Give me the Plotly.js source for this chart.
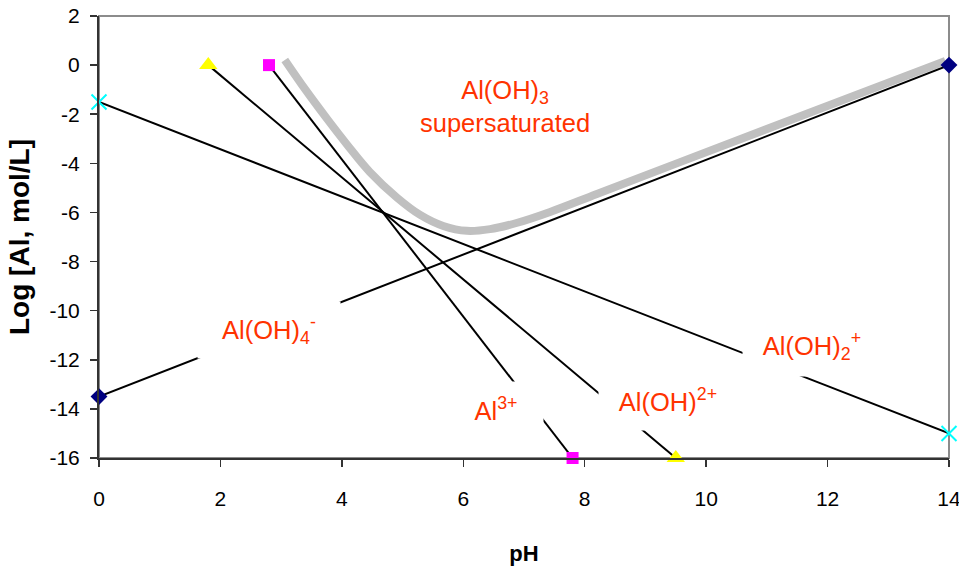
<!DOCTYPE html>
<html>
<head>
<meta charset="utf-8">
<script src="https://cdn.plot.ly/plotly-3.0.1.min.js"></script>
<style>html,body{margin:0;padding:0;background:#fff;}#chart{width:959px;height:569px;}</style>
</head>
<body>
<div id="chart"></div>
<script>
// Species lines (pH, log[Al])
const al3pH = [2.8, 7.8];
const al3Log = [0, -16];
const alOH2plusPH = [1.8, 9.5];      // Al(OH)2+
const alOH2plusLog = [0, -16];
const alOH2pH = [0, 14];             // Al(OH)2 +
const alOH2Log = [-1.5, -15];
const alOH4pH = [0, 14];             // Al(OH)4 -
const alOH4Log = [-13.5, 0];
// Al(OH)3 solubility boundary (thick gray curve)
const solPH  = [3.06, 3.40, 3.76, 4.09, 4.46, 4.91, 5.29, 5.67, 6.06, 6.44, 6.89, 7.43, 8.20, 9.57, 13.94];
const solLog = [0.21, -1.00, -2.20, -3.25, -4.35, -5.40, -6.10, -6.55, -6.75, -6.68, -6.42, -5.98, -5.25, -3.95, 0.17];
// Axis ticks
const xTicks = [0, 2, 4, 6, 8, 10, 12, 14];
const yTicks = [2, 0, -2, -4, -6, -8, -10, -12, -14, -16];

const FONT = 'Liberation Sans, Arial, sans-serif';
const LBL = '#FF3300';

const traces = [
  {x: solPH, y: solLog, mode: 'lines', line: {color: '#C0C0C0', width: 8, shape: 'spline', smoothing: 1}, hoverinfo: 'skip', cliponaxis: false},
  {x: alOH4pH, y: alOH4Log, mode: 'lines+markers', line: {color: '#000', width: 2},
   marker: {symbol: 'diamond', size: 13, color: '#000080'}, cliponaxis: false},
  {x: alOH2pH, y: alOH2Log, mode: 'lines+markers', line: {color: '#000', width: 2},
   marker: {symbol: 'x-thin', size: 15, color: '#00FFFF', line: {color: '#00FFFF', width: 2}}, cliponaxis: false},
  {x: al3pH, y: al3Log, mode: 'lines+markers', line: {color: '#000', width: 2},
   marker: {symbol: 'square', size: 12, color: '#FF00FF'}, cliponaxis: false},
  {x: alOH2plusPH, y: alOH2plusLog, mode: 'lines+markers', line: {color: '#000', width: 2},
   marker: {symbol: 'triangle-up', size: 16, color: '#FFFF00'}, cliponaxis: false}
];

function ann(x, y, text, w, h) {
  const a = {x: x, y: y, xref: 'x', yref: 'y', text: text, showarrow: false,
    font: {family: FONT, size: 25.5, color: LBL}, bgcolor: '#FFFFFF', borderpad: 0};
  if (w) { a.width = w; a.height = h; }
  return a;
}

const layout = {
  width: 959, height: 569,
  margin: {l: 99, r: 10, t: 16, b: 111},
  paper_bgcolor: '#fff', plot_bgcolor: '#fff',
  showlegend: false,
  font: {family: FONT, color: '#000'},
  xaxis: {
    range: [0, 14], tickvals: xTicks, ticktext: xTicks.map(String),
    showgrid: false, zeroline: false, showline: true, linecolor: '#333', linewidth: 2,
    ticks: 'outside', ticklen: 7, tickcolor: '#333', tickwidth: 1.5,
    ticklabelstandoff: 14, ticklabeloverflow: 'allow', tickfont: {size: 21, family: FONT},
    title: {text: 'pH', font: {size: 22, family: FONT, weight: 'bold'}, standoff: 36}
  },
  yaxis: {
    range: [-16, 2], tickvals: yTicks, ticktext: yTicks.map(String),
    showgrid: false, zeroline: false, showline: true, linecolor: '#333', linewidth: 2,
    ticks: 'outside', ticklen: 7, tickcolor: '#333', tickwidth: 1.5,
    ticklabelstandoff: 6, ticklabeloverflow: 'allow', tickfont: {size: 21, family: FONT},
    title: {text: 'Log [Al, mol/L]', font: {size: 28, family: FONT, weight: 'bold'}, standoff: 12}
  },
  shapes: [
    {type: 'rect', xref: 'paper', yref: 'paper', x0: 0, x1: 1, y0: 0, y1: 1,
     line: {color: '#8C8C8C', width: 2}, fillcolor: 'rgba(0,0,0,0)', layer: 'below'}
  ],
  annotations: [
    ann(6.69, -1.70, 'Al(OH)<sub>3</sub><br>supersaturated'),
    ann(2.80, -10.78, 'Al(OH)<sub>4</sub><sup>-</sup>', 142, 56),
    ann(11.75, -11.44, 'Al(OH)<sub>2</sub><sup>+</sup>', 138, 60),
    ann(6.54, -14.0, 'Al<sup>3+</sup>', 94, 54),
    ann(9.37, -13.64, 'Al(OH)<sup>2+</sup>', 138, 60)
  ]
};

Plotly.newPlot('chart', traces, layout, {displayModeBar: false, staticPlot: true});
</script>
</body>
</html>
